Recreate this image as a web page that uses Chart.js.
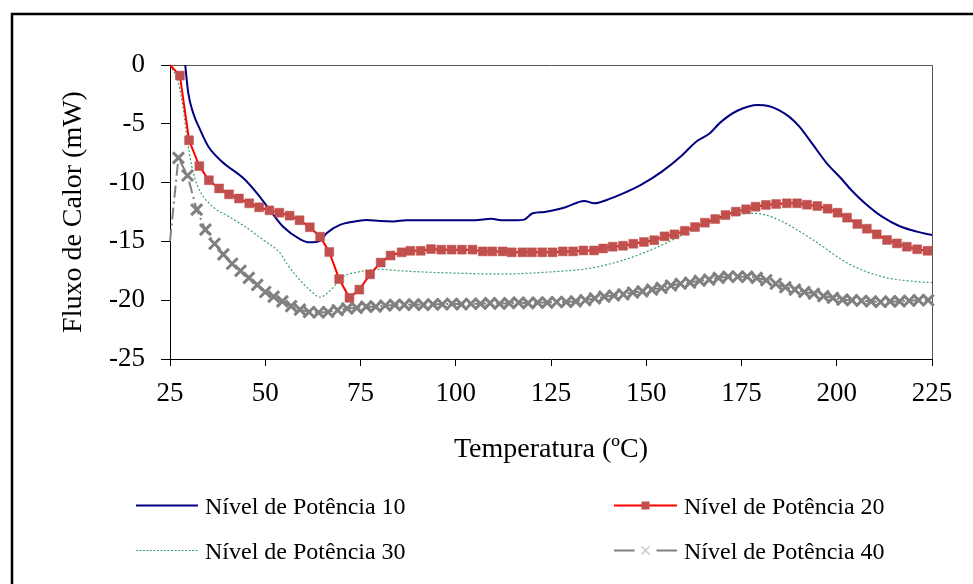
<!DOCTYPE html>
<html><head><meta charset="utf-8">
<script src="https://cdn.jsdelivr.net/npm/chart.js"></script>
<style>html,body{margin:0;padding:0;background:#fff;}#wrap{width:973px;height:584px;}</style>
</head><body><div id="wrap"><canvas id="c" width="973" height="584"></canvas></div>
<script>
// ---------- data ----------
const seriesNames = ['Nível de Potência 10', 'Nível de Potência 20', 'Nível de Potência 30', 'Nível de Potência 40'];
const xTitle = 'Temperatura (ºC)';
const yTitle = 'Fluxo de Calor (mW)';
const xTickValues = [25, 50, 75, 100, 125, 150, 175, 200, 225];
const yTickValues = [0, -5, -10, -15, -20, -25];

const temp10 = [28.9, 29.8, 31.1, 32.9, 35.1, 38.6, 44.5, 47.8, 51.2, 54.7, 59.1, 61.7, 64.4, 66.1, 69.6, 73.1, 76.6, 80.1, 83.6, 87, 95, 105, 109.3, 112, 116, 117.9, 120.2, 123.3, 128.8, 133.7, 136.4, 139.6, 144.1, 148.6, 154.1, 159.5, 163.1, 166.7, 169.4, 173.9, 179.4, 182.1, 184.8, 187.5, 190.2, 193.8, 197.4, 201.1, 203.8, 207.4, 211.9, 216.4, 221.0, 225];
const flux10 = [0.3, -2.4, -4.1, -5.5, -6.95, -8.2, -9.7, -10.9, -12.33, -13.75, -14.8, -15.08, -14.95, -14.3, -13.6, -13.32, -13.18, -13.27, -13.3, -13.2, -13.2, -13.2, -13.07, -13.2, -13.2, -13.15, -12.61, -12.5, -12.1, -11.56, -11.76, -11.48, -10.9, -10.2, -9.07, -7.65, -6.52, -5.8, -4.9, -3.89, -3.4, -3.49, -3.83, -4.39, -5.24, -6.8, -8.36, -9.63, -10.63, -11.76, -12.9, -13.69, -14.17, -14.45];

const temp20 = [25, 27.6, 30.0, 32.7, 35.2, 37.9, 40.5, 43.1, 45.8, 48.4, 51.1, 53.7, 56.4, 59.0, 61.7, 64.4, 66.8, 69.4, 72.1, 74.7, 77.5, 80.3, 82.9, 85.8, 88.1, 90.8, 93.5, 96.2, 98.9, 101.6, 104.4, 107.1, 109.6, 112.3, 114.7, 117.5, 120.0, 122.7, 125.4, 128.1, 130.8, 133.5, 136.3, 138.7, 141.2, 143.9, 146.6, 149.4, 152.1, 154.8, 157.4, 160.1, 162.8, 165.4, 168.1, 170.8, 173.5, 176.2, 178.7, 181.4, 184.1, 186.9, 189.6, 192.2, 194.9, 197.6, 200.2, 202.7, 205.4, 207.9, 210.5, 213.2, 215.8, 218.4, 221.1, 223.8];
const flux20 = [0, -0.9, -6.4, -8.6, -9.8, -10.5, -11.0, -11.35, -11.76, -12.1, -12.36, -12.56, -12.81, -13.2, -13.8, -14.6, -15.9, -18.2, -19.8, -19.1, -17.8, -16.8, -16.2, -15.93, -15.8, -15.8, -15.65, -15.7, -15.7, -15.7, -15.7, -15.85, -15.85, -15.85, -15.93, -15.93, -15.93, -15.93, -15.93, -15.85, -15.85, -15.77, -15.77, -15.6, -15.45, -15.37, -15.2, -15.05, -14.9, -14.57, -14.4, -14.1, -13.78, -13.41, -13.1, -12.76, -12.47, -12.27, -12.05, -11.9, -11.82, -11.76, -11.76, -11.88, -11.99, -12.22, -12.56, -12.98, -13.52, -13.92, -14.4, -14.88, -15.17, -15.45, -15.67, -15.8];

const temp30 = [25, 27.2, 28.5, 29.4, 30.7, 32.4, 35.7, 40.5, 44.5, 49.5, 53.9, 55.6, 58.3, 61.7, 64.4, 67.0, 70.5, 74.9, 80.1, 85.4, 100, 112.5, 126.0, 135.1, 144.1, 153.2, 162.2, 171.2, 178.5, 184.8, 193.8, 202.9, 211.9, 221.0, 225];
const flux30 = [0, -1.5, -3.8, -6.0, -8.6, -10.4, -11.9, -12.9, -13.7, -14.88, -16.0, -16.86, -18.0, -19.13, -19.75, -19.19, -18.0, -17.57, -17.37, -17.5, -17.7, -17.77, -17.57, -17.29, -16.58, -15.45, -14.03, -12.9, -12.61, -13.18, -14.88, -16.86, -18.0, -18.42, -18.5];

const temp40 = [25, 27.2, 29.6, 32.0, 34.3, 36.7, 39.0, 41.3, 43.5, 45.7, 47.9, 50.0, 52.2, 54.5, 56.8, 59.1, 61.5, 64.0, 66.5, 69.0, 71.5, 74.0, 76.5, 79.0, 81.5, 84.0, 86.5, 89.0, 91.5, 94.0, 96.5, 99.0, 101.5, 104.0, 106.5, 109.0, 111.5, 114.0, 116.5, 119.0, 121.5, 124.0, 126.5, 129.0, 131.5, 134.0, 136.5, 139.0, 141.5, 144.0, 146.5, 149.0, 151.5, 154.0, 156.5, 159.0, 161.5, 164.0, 166.5, 169.0, 171.5, 174.0, 176.5, 179.0, 181.5, 184.0, 186.5, 189.0, 191.5, 194.0, 196.5, 199.0, 201.5, 204.0, 206.5, 209.0, 211.5, 214.0, 216.5, 219.0, 221.5, 224.0];
const flux40 = [-15.0, -7.9, -9.4, -12.3, -14.0, -15.2, -16.1, -16.9, -17.5, -18.1, -18.7, -19.3, -19.7, -20.1, -20.5, -20.8, -21.0, -21.05, -21.0, -20.85, -20.7, -20.65, -20.55, -20.55, -20.45, -20.4, -20.4, -20.35, -20.4, -20.35, -20.35, -20.3, -20.35, -20.3, -20.3, -20.25, -20.3, -20.25, -20.2, -20.25, -20.2, -20.2, -20.15, -20.15, -20.1, -20.0, -19.85, -19.7, -19.6, -19.5, -19.35, -19.25, -19.1, -18.95, -18.75, -18.6, -18.5, -18.35, -18.25, -18.1, -18.0, -18.0, -18.0, -18.1, -18.3, -18.6, -18.9, -19.1, -19.3, -19.45, -19.65, -19.8, -19.95, -20.0, -20.05, -20.1, -20.15, -20.1, -20.1, -20.05, -20.0, -20.0];

const pts = (xs, ys) => xs.map((x, i) => ({ x: x, y: ys[i] }));

// ---------- plugins ----------
const SERIF = "'Liberation Serif', 'Times New Roman', serif";

const framePlugin = {
  id: 'frame',
  beforeDraw(chart) {
    const ctx = chart.ctx;
    ctx.save();
    ctx.fillStyle = '#fff';
    ctx.fillRect(0, 0, chart.width, chart.height);
    ctx.strokeStyle = '#000';
    ctx.lineWidth = 2.5;
    ctx.beginPath();
    ctx.moveTo(12, chart.height);
    ctx.lineTo(12, 14);
    ctx.lineTo(chart.width, 14);
    ctx.stroke();
    ctx.restore();
  },
  beforeDatasetsDraw(chart) {
    const a = chart.chartArea, ctx = chart.ctx;
    ctx.save();
    ctx.strokeStyle = '#555';
    ctx.lineWidth = 1;
    ctx.beginPath();
    ctx.moveTo(Math.round(a.left), Math.round(a.top) + 0.5);
    ctx.lineTo(Math.round(a.right) + 0.5, Math.round(a.top) + 0.5);
    ctx.lineTo(Math.round(a.right) + 0.5, Math.round(a.bottom));
    ctx.stroke();
    ctx.restore();
  }
};

const legendPlugin = {
  id: 'customLegend',
  afterDraw(chart) {
    const ctx = chart.ctx;
    const slots = [
      { x0: 136, x1: 198, tx: 205, y: 505.5 },
      { x0: 614, x1: 677, tx: 684, y: 505.5 },
      { x0: 136, x1: 198, tx: 205, y: 550.5 },
      { x0: 614, x1: 677, tx: 684, y: 550.5 }
    ];
    chart.data.datasets.forEach((d, i) => {
      const s = slots[i];
      const mid = (s.x0 + s.x1) / 2;
      ctx.save();
      ctx.strokeStyle = d.borderColor;
      ctx.lineWidth = d.borderWidth;
      ctx.setLineDash(d.legendDash || []);
      ctx.beginPath();
      if (d.legendGap) {
        ctx.moveTo(s.x0, s.y); ctx.lineTo(mid - d.legendGap, s.y);
        ctx.moveTo(mid + d.legendGap, s.y); ctx.lineTo(s.x1, s.y);
      } else {
        ctx.moveTo(s.x0, s.y); ctx.lineTo(s.x1, s.y);
      }
      ctx.stroke();
      ctx.setLineDash([]);
      if (d.legendMarker === 'rect') {
        ctx.fillStyle = d.pointBackgroundColor;
        ctx.fillRect(mid - 4, s.y - 4, 8, 8);
      } else if (d.legendMarker === 'cross') {
        ctx.strokeStyle = '#c8c8c8';
        ctx.lineWidth = 1.5;
        ctx.beginPath();
        ctx.moveTo(mid - 4, s.y - 4); ctx.lineTo(mid + 4, s.y + 4);
        ctx.moveTo(mid - 4, s.y + 4); ctx.lineTo(mid + 4, s.y - 4);
        ctx.stroke();
      }
      ctx.fillStyle = '#000';
      ctx.font = '24px ' + SERIF;
      ctx.textBaseline = 'alphabetic';
      ctx.textAlign = 'left';
      ctx.fillText(d.label, s.tx, s.y + 8.5);
      ctx.restore();
    });
  }
};

// ---------- chart ----------
new Chart(document.getElementById('c'), {
  type: 'line',
  data: {
    datasets: [
      {
        label: seriesNames[0],
        data: pts(temp10, flux10),
        borderColor: '#000080', borderWidth: 2,
        pointRadius: 0, cubicInterpolationMode: 'monotone',
        order: 3
      },
      {
        label: seriesNames[1],
        data: pts(temp20, flux20),
        borderColor: '#ff0000', borderWidth: 2,
        pointStyle: 'rect',
        pointRadius: c => c.dataIndex === 0 ? 0 : 6.3,
        pointBackgroundColor: '#c0504d', pointBorderColor: '#c0504d', pointBorderWidth: 0.5,
        legendMarker: 'rect',
        clip: false,
        order: 1
      },
      {
        label: seriesNames[2],
        data: pts(temp30, flux30),
        borderColor: '#3a9f6e', borderWidth: 1.2, borderDash: [2, 2],
        legendDash: [2, 1.5],
        pointRadius: 0, cubicInterpolationMode: 'monotone',
        order: 4
      },
      {
        label: seriesNames[3],
        data: pts(temp40, flux40),
        borderColor: '#808080', borderWidth: 2, borderDash: [12, 4, 2, 4],
        pointStyle: 'crossRot',
        pointRadius: c => c.dataIndex === 0 ? 0 : 7.8,
        pointBorderColor: '#808080', pointBorderWidth: 3,
        legendMarker: 'cross', legendGap: 11,
        clip: false,
        order: 2
      }
    ]
  },
  options: {
    responsive: false,
    animation: false,
    events: [],
    layout: { padding: { top: 65, right: 41, bottom: 105, left: 0 } },
    plugins: { legend: { display: false }, tooltip: { enabled: false } },
    scales: {
      x: {
        type: 'linear', min: 25, max: 225,
        afterBuildTicks: s => { s.ticks = xTickValues.map(v => ({ value: v })); },
        afterFit: s => { s.height = 120; },
        grid: { drawOnChartArea: false, drawTicks: true, tickLength: 7, color: '#000', lineWidth: 1 },
        border: { display: true, color: '#000', width: 1 },
        ticks: { color: '#000', font: { family: SERIF, size: 27 }, padding: 12, maxRotation: 0, callback: v => String(v) },
        title: { display: true, text: xTitle, color: '#000', font: { family: SERIF, size: 28 }, padding: { top: 0, bottom: 13 } }
      },
      y: {
        type: 'linear', min: -25, max: 0,
        afterBuildTicks: s => { s.ticks = yTickValues.map(v => ({ value: v })); },
        afterFit: s => { s.width = 170; },
        grid: { drawOnChartArea: false, drawTicks: true, tickLength: 9, color: '#000', lineWidth: 1 },
        border: { display: true, color: '#000', width: 1 },
        ticks: { color: '#000', font: { family: SERIF, size: 27 }, padding: 16, callback: v => String(v) },
        title: { display: true, text: yTitle, color: '#000', font: { family: SERIF, size: 28 }, padding: { top: 57, bottom: 0 } }
      }
    }
  },
  plugins: [framePlugin, legendPlugin]
});
</script>
</body></html>
